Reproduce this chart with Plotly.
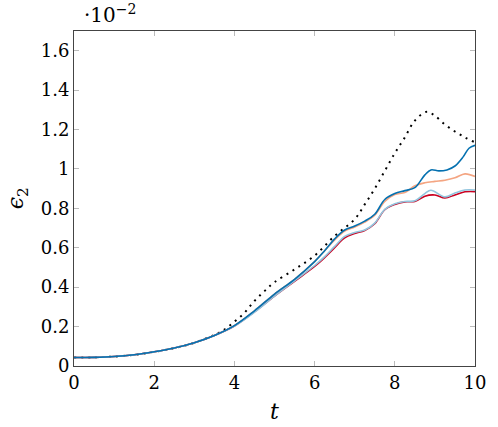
import plotly.graph_objects as go

t_blue = [0, 0.5, 1, 1.5, 2, 2.5, 3, 3.5, 4, 4.5, 5, 5.5, 6, 6.25, 6.5, 6.75, 7, 7.25, 7.5, 7.75, 8, 8.25, 8.5, 8.75, 8.9, 9.1, 9.3, 9.5, 9.7, 9.85, 10]
v_blue = [0.043, 0.044, 0.048, 0.057, 0.072, 0.091, 0.118, 0.155, 0.205, 0.28, 0.365, 0.44, 0.53, 0.585, 0.645, 0.69, 0.71, 0.735, 0.77, 0.845, 0.875, 0.89, 0.905, 0.97, 0.995, 0.99, 0.995, 1.015, 1.06, 1.105, 1.12]

t_salmon = [0, 0.5, 1, 1.5, 2, 2.5, 3, 3.5, 4, 4.5, 5, 5.5, 6, 6.25, 6.5, 6.75, 7, 7.25, 7.5, 7.75, 8, 8.25, 8.5, 8.75, 9, 9.25, 9.5, 9.75, 10]
v_salmon = [0.043, 0.044, 0.048, 0.057, 0.072, 0.091, 0.118, 0.155, 0.205, 0.28, 0.365, 0.44, 0.53, 0.585, 0.64, 0.685, 0.705, 0.73, 0.765, 0.835, 0.87, 0.88, 0.915, 0.93, 0.937, 0.943, 0.955, 0.975, 0.962]

t_red = [0, 0.5, 1, 1.5, 2, 2.5, 3, 3.5, 4, 4.5, 5, 5.5, 6, 6.25, 6.5, 6.75, 7, 7.25, 7.5, 7.75, 8, 8.25, 8.5, 8.75, 9, 9.25, 9.5, 9.75, 10]
v_red = [0.043, 0.044, 0.048, 0.057, 0.072, 0.091, 0.118, 0.155, 0.203, 0.275, 0.355, 0.43, 0.505, 0.55, 0.6, 0.65, 0.672, 0.688, 0.722, 0.793, 0.82, 0.833, 0.835, 0.862, 0.868, 0.853, 0.868, 0.884, 0.885]

t_lblue = [0, 0.5, 1, 1.5, 2, 2.5, 3, 3.5, 4, 4.5, 5, 5.5, 6, 6.25, 6.5, 6.75, 7, 7.25, 7.5, 7.75, 8, 8.25, 8.5, 8.75, 8.9, 9.25, 9.5, 9.75, 10]
v_lblue = [0.043, 0.044, 0.048, 0.057, 0.072, 0.091, 0.118, 0.155, 0.203, 0.273, 0.355, 0.432, 0.51, 0.555, 0.607, 0.658, 0.678, 0.69, 0.725, 0.795, 0.823, 0.835, 0.838, 0.875, 0.892, 0.858, 0.878, 0.893, 0.893]

t_dot = [0, 0.5, 1, 1.5, 2, 2.5, 3, 3.5, 3.75, 4, 4.25, 4.5, 4.75, 5, 5.5, 6, 6.5, 7, 7.25, 7.5, 7.75, 8, 8.25, 8.5, 8.8, 9, 9.25, 9.5, 9.75, 10]
v_dot = [0.043, 0.044, 0.048, 0.057, 0.072, 0.091, 0.118, 0.158, 0.185, 0.225, 0.27, 0.33, 0.38, 0.425, 0.49, 0.56, 0.66, 0.745, 0.82, 0.9, 0.99, 1.08, 1.16, 1.245, 1.29, 1.27, 1.225, 1.19, 1.16, 1.135]

x_ticks = [0, 2, 4, 6, 8, 10]
y_ticks = [0, 0.2, 0.4, 0.6, 0.8, 1.0, 1.2, 1.4, 1.6]
y_tick_labels = ["0", "0.2", "0.4", "0.6", "0.8", "1", "1.2", "1.4", "1.6"]

fig = go.Figure()
fig.add_trace(go.Scatter(x=t_dot, y=v_dot, mode="lines", line=dict(color="black", width=2, dash="2px,5px", shape="spline")))
fig.add_trace(go.Scatter(x=t_salmon, y=v_salmon, mode="lines", line=dict(color="#f4a582", width=1.6, shape="spline")))
fig.add_trace(go.Scatter(x=t_red, y=v_red, mode="lines", line=dict(color="#ca0020", width=1.6, shape="spline")))
fig.add_trace(go.Scatter(x=t_lblue, y=v_lblue, mode="lines", line=dict(color="#92c5de", width=1.6, shape="spline")))
fig.add_trace(go.Scatter(x=t_blue, y=v_blue, mode="lines", line=dict(color="#0571b0", width=1.6, shape="spline")))

FAM = "DejaVu Serif, Times New Roman, serif"
font = dict(family=FAM, size=18, color="black")

fig.update_layout(
    width=498, height=427,
    margin=dict(l=74, r=20, t=31, b=61),
    paper_bgcolor="white", plot_bgcolor="white",
    showlegend=False,
    font=font,
    xaxis=dict(range=[0, 10], tickvals=x_ticks, ticks="inside", ticklen=5, tickcolor="#bbbbbb",
               showline=True, linecolor="#444444", linewidth=1, mirror="allticks", showgrid=False,
               zeroline=False, tickfont=font),
    yaxis=dict(range=[0, 1.7], tickvals=y_ticks, ticktext=y_tick_labels, ticks="inside", ticklen=5,
               tickcolor="#bbbbbb", showline=True, linecolor="#444444", linewidth=1, mirror="allticks",
               showgrid=False, zeroline=False, tickfont=font),
    annotations=[
        dict(text="<i>t</i>", x=0.5, y=-0.135, xref="paper", yref="paper", showarrow=False,
             xanchor="center", yanchor="middle", font=dict(family=FAM, size=22, color="black")),
        dict(text="<i>ϵ</i><sub>2</sub>", x=-0.14, y=0.5, xref="paper", yref="paper", showarrow=False,
             textangle=-90, xanchor="center", yanchor="middle", font=dict(family=FAM, size=22, color="black")),
        dict(text="·10<sup>−2</sup>", x=0.02, y=1.0, xref="paper", yref="paper", showarrow=False,
             xanchor="left", yanchor="bottom", yshift=2, font=dict(family=FAM, size=20, color="black")),
    ],
)

fig.write_html("out.html")
